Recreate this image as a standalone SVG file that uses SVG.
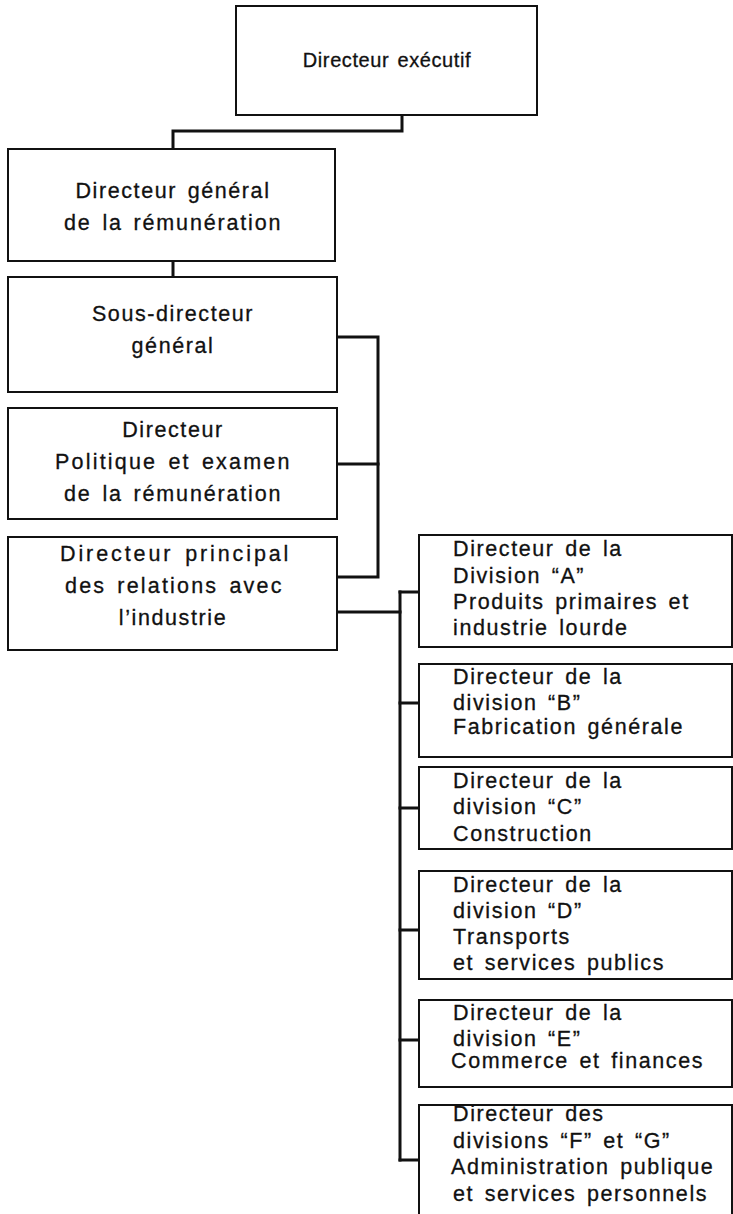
<svg xmlns="http://www.w3.org/2000/svg" width="733" height="1214" viewBox="0 0 733 1214">
  <style>
    .box { fill: #ffffff; stroke: #111111; stroke-width: 2; }
    .wire { fill: none; stroke: #111111; stroke-width: 3; stroke-linejoin: miter; stroke-linecap: square; }
    text { font-family: "Liberation Sans", Arial, sans-serif; font-size: 21.5px; fill: #111111; stroke: #111111; stroke-width: 0.3px; letter-spacing: 1.6px; word-spacing: 3px; }
    .c { text-anchor: middle; }
    .top { font-size: 20px; letter-spacing: 0.6px; word-spacing: 2px; }
  </style>
  <rect width="733" height="1214" fill="#ffffff"/>

  <!-- reporting lines -->
  <g id="connectors">
    <path class="wire" d="M402,115 V131 H173 V149"/>
    <path class="wire" d="M173,261 V277"/>
    <path class="wire" d="M337,337 H378 V577 H337"/>
    <path class="wire" d="M337,464 H378"/>
    <path class="wire" d="M337,612 H400"/>
    <path class="wire" d="M400,592 V1160"/>
    <path class="wire" d="M400,592 H419 M400,703 H419 M400,808 H419 M400,930 H419 M400,1040 H419 M400,1160 H419"/>
  </g>

  <g id="directeur-executif">
    <rect class="box" x="236" y="6" width="301" height="109"/>
    <text class="c top" x="387" y="67">Directeur exécutif</text>
  </g>

  <g id="directeur-general">
    <rect class="box" x="8" y="149" width="327" height="112"/>
    <text class="c" x="173" y="198">Directeur général</text>
    <text class="c" x="173" y="230" textLength="218" lengthAdjust="spacing">de la rémunération</text>
  </g>

  <g id="sous-directeur">
    <rect class="box" x="8" y="277" width="329" height="115"/>
    <text class="c" x="173" y="321">Sous-directeur</text>
    <text class="c" x="173" y="353">général</text>
  </g>

  <g id="directeur-politique">
    <rect class="box" x="8" y="408" width="329" height="111"/>
    <text class="c" x="173" y="437">Directeur</text>
    <text class="c" x="173" y="469" textLength="236" lengthAdjust="spacing">Politique et examen</text>
    <text class="c" x="173" y="501" textLength="218" lengthAdjust="spacing">de la rémunération</text>
  </g>

  <g id="directeur-relations">
    <rect class="box" x="8" y="537" width="329" height="113"/>
    <text class="c" x="175" y="561" textLength="230" lengthAdjust="spacing">Directeur principal</text>
    <text class="c" x="174" y="593" textLength="218" lengthAdjust="spacing">des relations avec</text>
    <text class="c" x="173" y="625">l’industrie</text>
  </g>

  <g id="division-a">
    <rect class="box" x="419" y="535" width="313" height="112"/>
    <text x="453" y="556">Directeur de la</text>
    <text x="453" y="583">Division “A”</text>
    <text x="453" y="609">Produits primaires et</text>
    <text x="453" y="635">industrie lourde</text>
  </g>

  <g id="division-b">
    <rect class="box" x="419" y="664" width="313" height="93"/>
    <text x="453" y="684">Directeur de la</text>
    <text x="453" y="710">division “B”</text>
    <text x="453" y="734">Fabrication générale</text>
  </g>

  <g id="division-c">
    <rect class="box" x="419" y="767" width="313" height="82"/>
    <text x="453" y="788">Directeur de la</text>
    <text x="453" y="814">division “C”</text>
    <text x="453" y="841">Construction</text>
  </g>

  <g id="division-d">
    <rect class="box" x="419" y="871" width="313" height="108"/>
    <text x="453" y="892">Directeur de la</text>
    <text x="453" y="918">division “D”</text>
    <text x="453" y="944">Transports</text>
    <text x="453" y="970">et services publics</text>
  </g>

  <g id="division-e">
    <rect class="box" x="419" y="1000" width="313" height="87"/>
    <text x="453" y="1020">Directeur de la</text>
    <text x="453" y="1046">division “E”</text>
    <text x="451" y="1068">Commerce et finances</text>
  </g>

  <g id="division-fg">
    <rect class="box" x="419" y="1105" width="313" height="120"/>
    <text x="453" y="1121">Directeur des</text>
    <text x="453" y="1148">divisions “F” et “G”</text>
    <text x="451" y="1174">Administration publique</text>
    <text x="453" y="1201">et services personnels</text>
  </g>
</svg>
